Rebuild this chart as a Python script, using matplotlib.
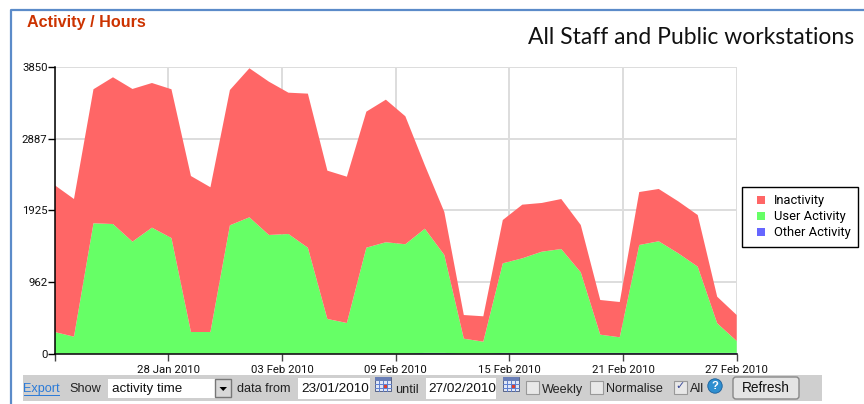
import matplotlib
matplotlib.use('Agg')
import matplotlib.pyplot as plt
from matplotlib.lines import Line2D
from matplotlib.patches import Rectangle, FancyBboxPatch, Circle, Polygon

W, H = 864, 404

total = [2264, 2076, 3551, 3712, 3555, 3635, 3551, 2385, 2234, 3541, 3833, 3653,
         3505, 3492, 2457, 2376, 3250, 3411, 3188, 2530, 1902, 517, 500, 1794,
         2000, 2023, 2076, 1727, 719, 692, 2170, 2211, 2045, 1861, 763, 517]
user = [289, 226, 1750, 1740, 1503, 1691, 1552, 289, 289, 1723, 1830, 1593,
        1606, 1422, 464, 410, 1422, 1495, 1468, 1677, 1324, 199, 159, 1212,
        1279, 1368, 1404, 1091, 253, 218, 1458, 1508, 1347, 1167, 406, 168]
other = [0, 0, 0, 0, 0, 0, 0, 0, 0, 0, 0, 0, 0, 0, 0, 0, 0, 0, 0, 8, 8, 0, 0, 8,
         8, 8, 8, 8, 8, 8, 8, 8, 8, 8, 8, 8]
inactive = [t - u for t, u in zip(total, user)]
user_only = [u - o for u, o in zip(user, other)]
days = list(range(len(total)))

y_ticks = [0, 962, 1925, 2887, 3850]
x_labels = ['', '28 Jan 2010', '03 Feb 2010', '09 Feb 2010', '15 Feb 2010', '21 Feb 2010', '27 Feb 2010']
x_ticks = [35 * i / 6 for i in range(7)]

series_names = ['Inactivity', 'User Activity', 'Other Activity']
series_colors = ['#ff6666', '#66ff66', '#6666ff']

plt.rcParams['font.family'] = ['Roboto', 'DejaVu Sans']

fig = plt.figure(figsize=(W / 100, H / 100), dpi=100)

# pixel overlay for the page furniture
page = fig.add_axes([0, 0, 1, 1], zorder=0)
page.set_xlim(0, W)
page.set_ylim(H, 0)
page.axis('off')

page.plot([11, 11, W], [H, 9.5, 9.5], color='#5b8bc9', lw=1.6)

page.text(27, 22, 'Activity / Hours', color='#cc3300', fontsize=11.6, fontweight='bold',
          family='Liberation Sans', va='center')
page.text(854, 38, 'All Staff and Public workstations', color='#111111', fontsize=16.5,
          ha='right', va='center', family='Lato')

# chart
left, right, top, bottom = 54.5, 736.7, 67, 353.5
ax = fig.add_axes([left / W, 1 - bottom / H, (right - left) / W, (bottom - top) / H], zorder=1)
ax.patch.set_alpha(0)
ax.stackplot(days, other, user_only, inactive, colors=series_colors[::-1], lw=0, zorder=2)
ax.set_xlim(0, 35)
ax.set_ylim(0, 3850)
ax.set_yticks(y_ticks)
ax.set_xticks(x_ticks)
ax.set_xticklabels(x_labels)
ax.grid(True, color='#dddddd', lw=1.4, zorder=1)
ax.set_axisbelow(True)
for s in ['top', 'right']:
    ax.spines[s].set_visible(False)
ax.spines['left'].set_linewidth(1.1)
ax.spines['bottom'].set_linewidth(1.1)
ax.tick_params(axis='both', length=5, width=1, labelsize=8.2, labelcolor='#111111')
ax.tick_params(axis='y', pad=0)
ax.tick_params(axis='x', pad=3, color='#444444')

handles = [Line2D([], [], ls='none', marker='s', ms=5.8, mew=0, color=c) for c in series_colors]
leg = fig.legend(handles, series_names, loc='upper left',
                 bbox_to_anchor=(741.5 / W, 1 - 187 / H), fontsize=9.3, frameon=True,
                 fancybox=False, edgecolor='black', framealpha=1, borderpad=0.58,
                 labelspacing=0.23, handlelength=1.8, handletextpad=0.12,
                 borderaxespad=0)
leg.get_frame().set_linewidth(1.0)


def label(x, y, s, size=9.1, color='#222222', **kw):
    page.text(x, y, s, color=color, fontsize=size, va='center', family='Liberation Sans', **kw)


def calendar(x, y):
    page.add_patch(Rectangle((x, y), 16, 14, fc='#dfe6f7', ec='#44527a', lw=0.6))
    page.add_patch(Rectangle((x, y), 16, 3.5, fc='#6a7fb8', ec='none'))
    for i in range(1, 4):
        page.plot([x + i * 4, x + i * 4], [y + 3.5, y + 14], color='#5f7fd0', lw=0.7)
    for j in (7, 10.5):
        page.plot([x, x + 16], [y + j, y + j], color='#5f7fd0', lw=0.7)
    page.add_patch(Rectangle((x + 9, y + 7), 3.5, 3.5, fc='#e04030', ec='none'))


def checkbox(x, y):
    page.add_patch(Rectangle((x, y), 13, 12.5, fc='#e8e8e8', ec='#999999', lw=0.8))


# toolbar under the chart
page.add_patch(Rectangle((23, 375), 799, 26, fc='#cfcfcf', ec='none'))
label(23.5, 389, 'Export', color='#2a7ad8')
page.plot([24, 59], [395, 395], color='#2a7ad8', lw=0.7)
label(69, 389, 'Show')

page.add_patch(Rectangle((108, 379), 107, 19, fc='white', ec='none'))
label(112, 389, 'activity time', size=9.6, color='#111111')
page.add_patch(Rectangle((215, 379), 16, 18, fc='#d8d8d8', ec='#777777', lw=1))
page.add_patch(Polygon([[219.5, 387], [227, 387], [223.2, 391]], fc='black', ec='none'))
label(237, 389, 'data from')

page.add_patch(Rectangle((298, 378), 72, 21, fc='white', ec='none'))
label(301, 389, '23/01/2010', size=9.7, color='#111111')
calendar(375, 377)
label(395, 390, 'until')

page.add_patch(Rectangle((426, 378), 70, 21, fc='white', ec='none'))
label(428, 389, '27/02/2010', size=9.7, color='#111111')
calendar(503, 377)

checkbox(526, 381)
label(542, 389.5, 'Weekly')
checkbox(589.5, 381)
label(606, 389.5, 'Normalise')
checkbox(673.5, 381)
page.text(680, 386.5, '\u2713', color='#3a4a9a', fontsize=8, va='center', ha='center', family='DejaVu Sans')
label(690, 389.5, 'All')
page.add_patch(Circle((715, 386), 7.2, fc='#2f8fd0', ec='#1a5f9a', lw=0.6))
page.text(715, 386, '?', color='white', fontsize=8, fontweight='bold', ha='center', va='center', family='Liberation Sans')
page.add_patch(FancyBboxPatch((733, 377), 66, 22, boxstyle='round,pad=0,rounding_size=3',
                              fc='#e4e4e4', ec='#888888', lw=1))
label(766, 388.5, 'Refresh', size=9.8, color='#111111', ha='center')

fig.savefig('out.png', dpi=100)
